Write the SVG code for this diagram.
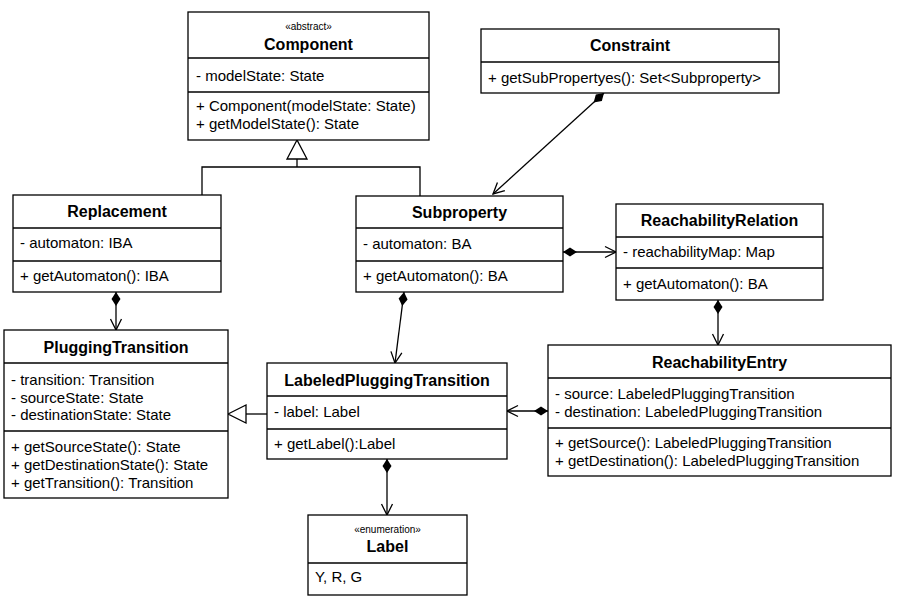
<svg xmlns="http://www.w3.org/2000/svg" width="898" height="603" viewBox="0 0 898 603">
<style>
.box{fill:#fff;stroke:#000;stroke-width:1.3}
.div{stroke:#000;stroke-width:1.3}
.t{font-family:"Liberation Sans",Arial,sans-serif;font-size:15px;fill:#000}
.b{font-family:"Liberation Sans",Arial,sans-serif;font-size:16px;font-weight:bold;fill:#000;text-anchor:middle}
.s{font-family:"Liberation Sans",Arial,sans-serif;font-size:10px;fill:#000;text-anchor:middle}
.c{fill:none;stroke:#000;stroke-width:1.3}
</style>
<defs>
<marker id="dia" markerUnits="userSpaceOnUse" markerWidth="16" markerHeight="10" viewBox="0 -5 16 10" refX="0" refY="0" orient="auto">
<path d="M0,0 L7,-4.5 L14,0 L7,4.5 z" fill="#000"/>
</marker>
<marker id="arr" markerUnits="userSpaceOnUse" markerWidth="14" markerHeight="14" viewBox="-12 -7 14 14" refX="0" refY="0" orient="auto">
<path d="M-11,-5.5 L0,0 L-11,5.5" fill="none" stroke="#000" stroke-width="1.3"/>
</marker>
</defs>
<rect width="898" height="603" fill="#fff"/>
<g id="connectors">
<polyline class="c" points="202,195 202,167 420,167 420,196"/>
<line class="c" x1="297" y1="167" x2="297" y2="159"/>
<polygon points="297,140 287,159 307,159" fill="#fff" stroke="#000" stroke-width="1.3"/>
<line class="c" x1="604" y1="93" x2="493" y2="194" marker-start="url(#dia)" marker-end="url(#arr)"/>
<line class="c" x1="116" y1="292" x2="116" y2="330" marker-start="url(#dia)" marker-end="url(#arr)"/>
<line class="c" x1="563" y1="252" x2="616" y2="252" marker-start="url(#dia)" marker-end="url(#arr)"/>
<line class="c" x1="404" y1="292" x2="395" y2="363" marker-start="url(#dia)" marker-end="url(#arr)"/>
<line class="c" x1="718" y1="300" x2="718" y2="345" marker-start="url(#dia)" marker-end="url(#arr)"/>
<line class="c" x1="548" y1="411" x2="507" y2="411" marker-start="url(#dia)" marker-end="url(#arr)"/>
<line class="c" x1="267" y1="414" x2="246" y2="414"/>
<polygon points="228,414 246,405 246,423" fill="#fff" stroke="#000" stroke-width="1.3"/>
<line class="c" x1="387" y1="459" x2="387" y2="515" marker-start="url(#dia)" marker-end="url(#arr)"/>
</g>
<g id="Component">
<rect class="box" x="188" y="12" width="241" height="128"/>
<line class="div" x1="188" y1="58" x2="429" y2="58"/>
<line class="div" x1="188" y1="92" x2="429" y2="92"/>
<text class="s" x="308.5" y="30">«abstract»</text>
<text class="b" x="308.5" y="50">Component</text>
<text class="t" x="196" y="81">- modelState: State</text>
<text class="t" x="196" y="111">+ Component(modelState: State)</text>
<text class="t" x="196" y="129">+ getModelState(): State</text>
</g>
<g id="Constraint">
<rect class="box" x="481" y="29" width="298" height="64"/>
<line class="div" x1="481" y1="62" x2="779" y2="62"/>
<text class="b" x="630" y="51">Constraint</text>
<text class="t" x="488" y="83">+ getSubPropertyes(): Set&lt;Subproperty&gt;</text>
</g>
<g id="Replacement">
<rect class="box" x="13" y="195" width="208" height="97"/>
<line class="div" x1="13" y1="228" x2="221" y2="228"/>
<line class="div" x1="13" y1="261" x2="221" y2="261"/>
<text class="b" x="117" y="217">Replacement</text>
<text class="t" x="20" y="248">- automaton: IBA</text>
<text class="t" x="20" y="281">+ getAutomaton(): IBA</text>
</g>
<g id="Subproperty">
<rect class="box" x="356" y="196" width="207" height="96"/>
<line class="div" x1="356" y1="228" x2="563" y2="228"/>
<line class="div" x1="356" y1="261" x2="563" y2="261"/>
<text class="b" x="459.5" y="218">Subproperty</text>
<text class="t" x="363" y="249">- automaton: BA</text>
<text class="t" x="363" y="281">+ getAutomaton(): BA</text>
</g>
<g id="ReachabilityRelation">
<rect class="box" x="616" y="204" width="207" height="96"/>
<line class="div" x1="616" y1="237" x2="823" y2="237"/>
<line class="div" x1="616" y1="268" x2="823" y2="268"/>
<text class="b" x="719.5" y="226">ReachabilityRelation</text>
<text class="t" x="623" y="257">- reachabilityMap: Map</text>
<text class="t" x="623" y="289">+ getAutomaton(): BA</text>
</g>
<g id="PluggingTransition">
<rect class="box" x="4" y="330" width="224" height="168"/>
<line class="div" x1="4" y1="363" x2="228" y2="363"/>
<line class="div" x1="4" y1="431" x2="228" y2="431"/>
<text class="b" x="116" y="353">PluggingTransition</text>
<text class="t" x="11" y="385">- transition: Transition</text>
<text class="t" x="11" y="403">- sourceState: State</text>
<text class="t" x="11" y="420">- destinationState: State</text>
<text class="t" x="11" y="452">+ getSourceState(): State</text>
<text class="t" x="11" y="470">+ getDestinationState(): State</text>
<text class="t" x="11" y="488">+ getTransition(): Transition</text>
</g>
<g id="LabeledPluggingTransition">
<rect class="box" x="267" y="363" width="240" height="96"/>
<line class="div" x1="267" y1="396" x2="507" y2="396"/>
<line class="div" x1="267" y1="429" x2="507" y2="429"/>
<text class="b" x="387" y="386">LabeledPluggingTransition</text>
<text class="t" x="274" y="417">- label: Label</text>
<text class="t" x="274" y="449">+ getLabel():Label</text>
</g>
<g id="ReachabilityEntry">
<rect class="box" x="548" y="345" width="343" height="131"/>
<line class="div" x1="548" y1="378" x2="891" y2="378"/>
<line class="div" x1="548" y1="428" x2="891" y2="428"/>
<text class="b" x="719.5" y="368">ReachabilityEntry</text>
<text class="t" x="555" y="399">- source: LabeledPluggingTransition</text>
<text class="t" x="555" y="417">- destination: LabeledPluggingTransition</text>
<text class="t" x="555" y="448">+ getSource(): LabeledPluggingTransition</text>
<text class="t" x="555" y="466">+ getDestination(): LabeledPluggingTransition</text>
</g>
<g id="Label">
<rect class="box" x="308" y="515" width="159" height="80"/>
<line class="div" x1="308" y1="563" x2="467" y2="563"/>
<text class="s" x="387.5" y="533">«enumeration»</text>
<text class="b" x="387.5" y="552">Label</text>
<text class="t" x="315" y="582">Y, R, G</text>
</g>
</svg>
